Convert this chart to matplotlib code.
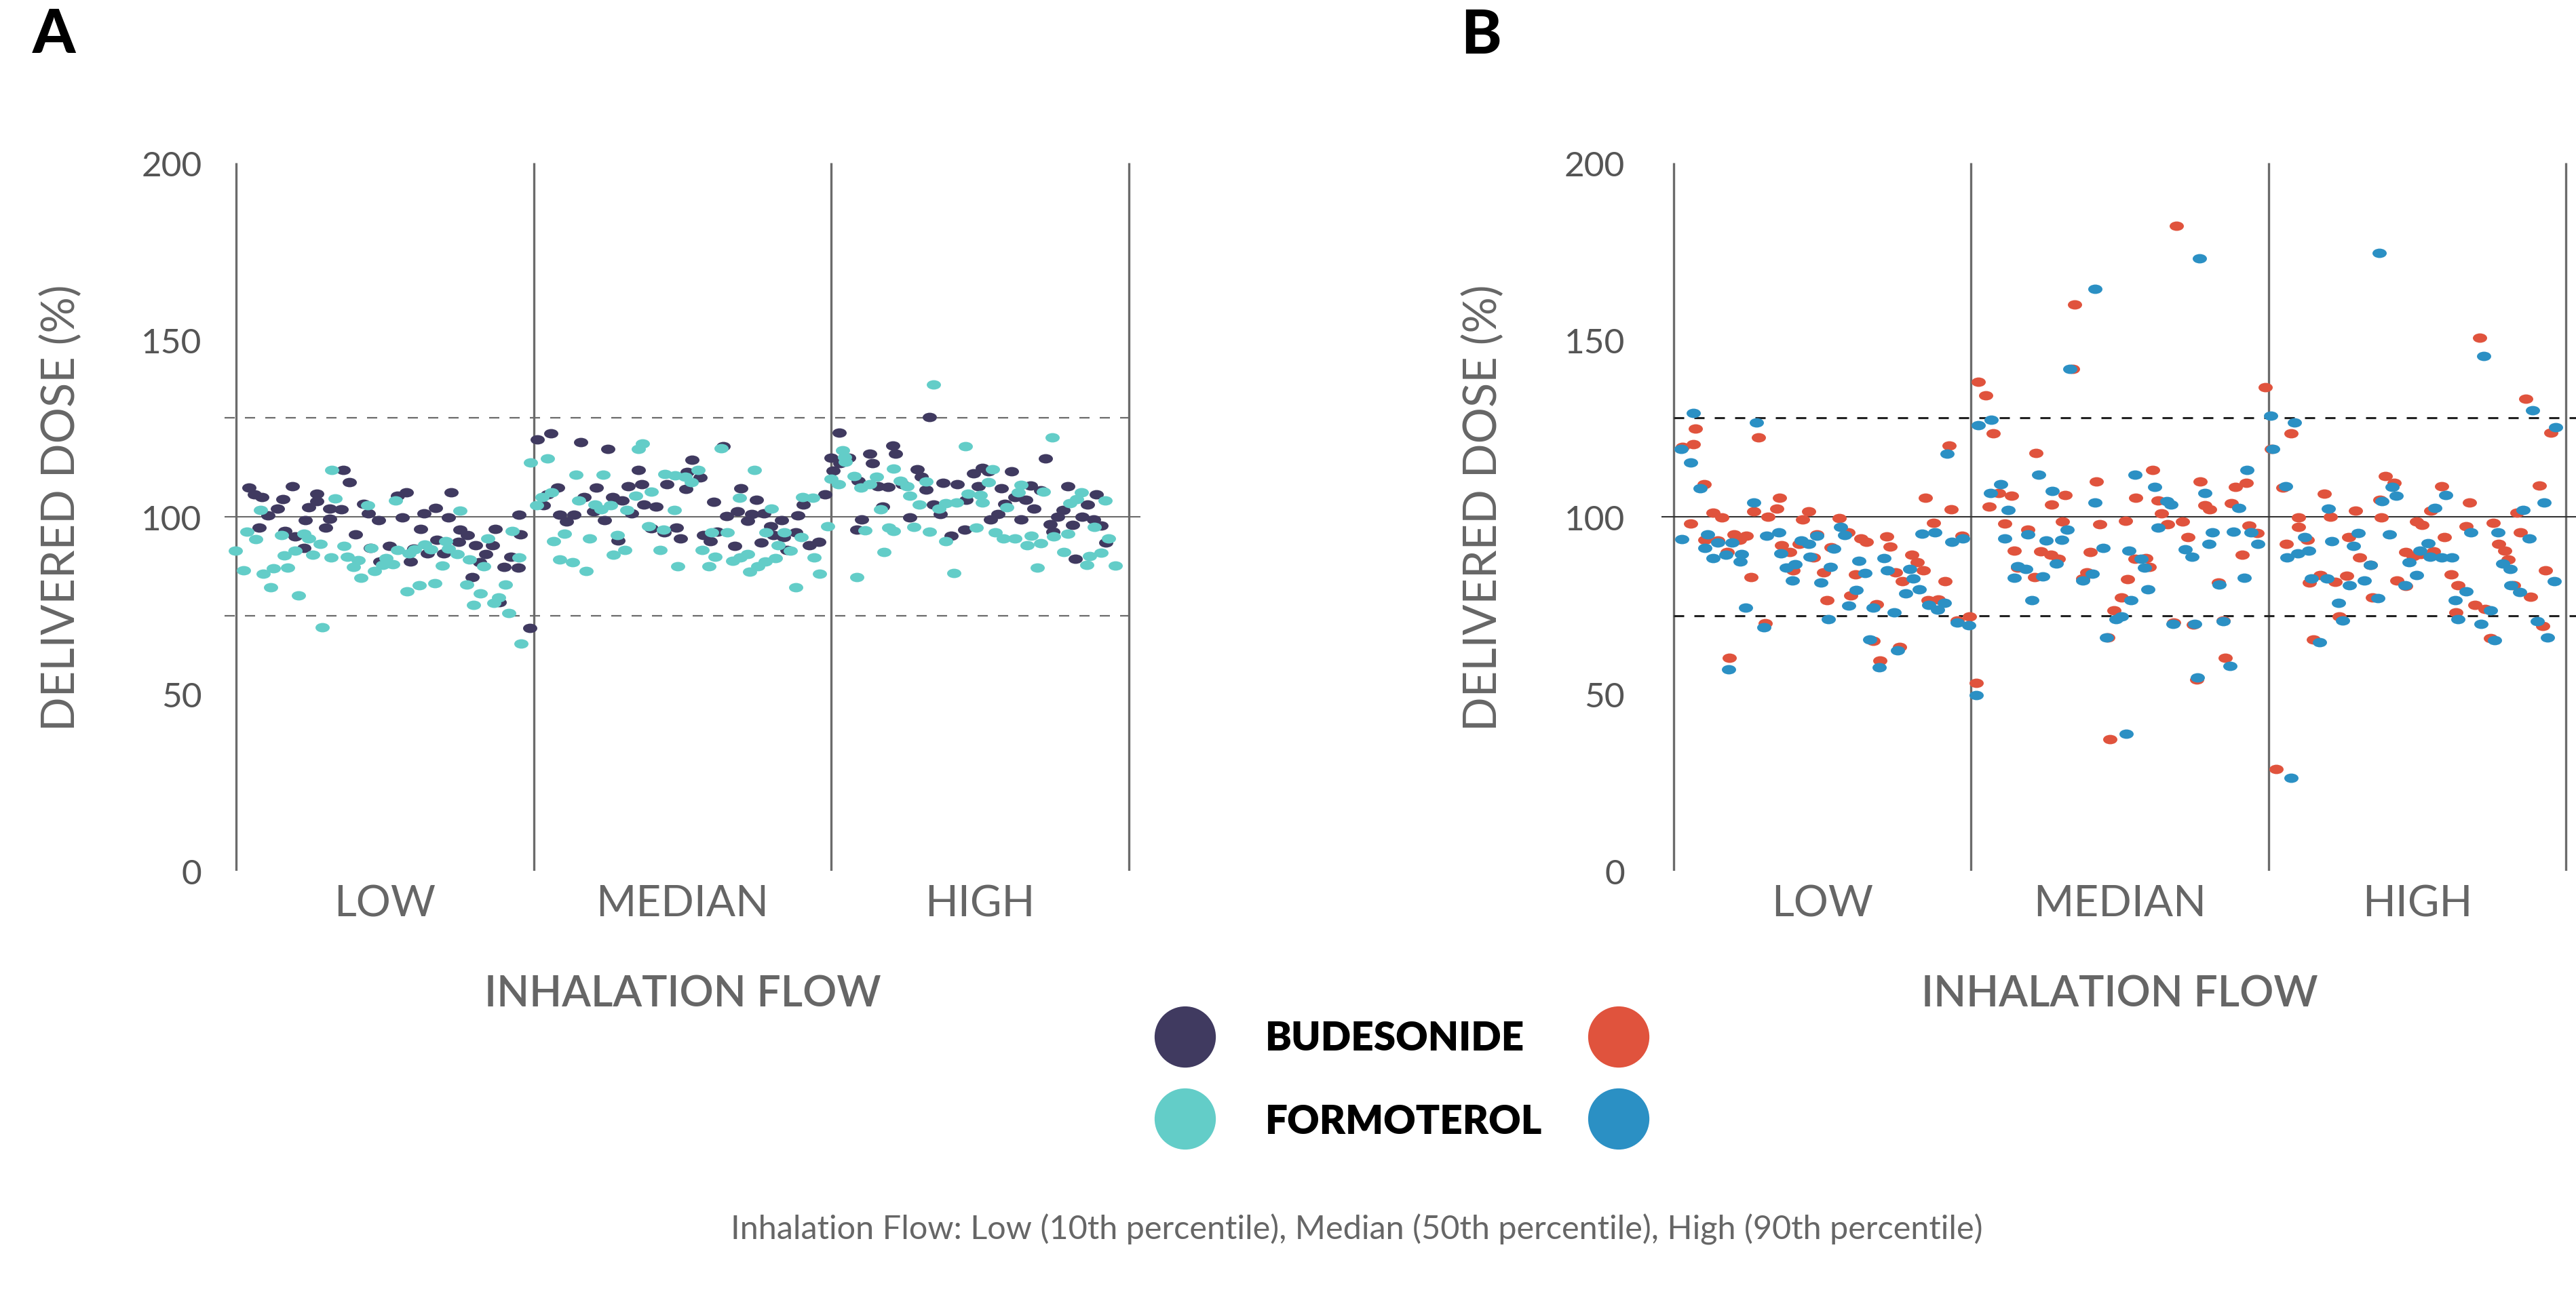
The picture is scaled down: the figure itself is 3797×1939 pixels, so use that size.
import matplotlib
matplotlib.use("Agg")
import matplotlib.pyplot as plt
from matplotlib.path import Path
from matplotlib.transforms import Affine2D

# ---- data: delivered dose (% of label claim) per sample ----
# x = sample position; 0-1 LOW flow, 1-2 MEDIAN flow, 2-3 HIGH flow

# panel A
a_bud_x = [
    0.042, 0.061, 0.087, 0.076, 0.106, 0.138, 0.156, 0.188, 0.163, 0.198, 0.228, 0.232, 0.243, 0.271, 0.271,
    0.315, 0.315, 0.300, 0.353, 0.359, 0.381, 0.400, 0.429, 0.443, 0.479, 0.452, 0.483, 0.514, 0.542, 0.572,
    0.557, 0.585, 0.598, 0.619, 0.632, 0.642, 0.669, 0.674, 0.697, 0.713, 0.722, 0.752, 0.748, 0.777, 0.804,
    0.817, 0.794, 0.838, 0.861, 0.870, 0.885, 0.900, 0.923, 0.948, 0.956, 0.950, 0.986,
    1.013, 1.057, 1.032, 1.046, 1.080, 1.087, 1.110, 1.134, 1.158, 1.169, 1.201, 1.210, 1.237, 1.249, 1.264,
    1.296, 1.283, 1.317, 1.328, 1.351, 1.362, 1.371, 1.395, 1.410, 1.439, 1.447, 1.479, 1.492, 1.511, 1.515,
    1.533, 1.559, 1.570, 1.594, 1.606, 1.616, 1.636, 1.648, 1.676, 1.685, 1.695, 1.718, 1.733, 1.748, 1.764,
    1.773, 1.796, 1.805, 1.834, 1.840, 1.851, 1.881, 1.887, 1.906, 1.927, 1.959, 1.980,
    2.000, 2.006, 2.027, 2.030, 2.059, 2.091, 2.101, 2.085, 2.129, 2.139, 2.156, 2.173, 2.192, 2.207, 2.217,
    2.239, 2.264, 2.290, 2.302, 2.319, 2.329, 2.344, 2.366, 2.376, 2.404, 2.424, 2.448, 2.454, 2.479, 2.494,
    2.509, 2.528, 2.536, 2.561, 2.571, 2.583, 2.606, 2.618, 2.638, 2.655, 2.669, 2.682, 2.703, 2.720, 2.735,
    2.745, 2.762, 2.780, 2.796, 2.812, 2.821, 2.844, 2.862, 2.881, 2.891, 2.908, 2.922,
]
a_bud_y = [
    108.2, 106.4, 105.5, 97.0, 100.4, 102.3, 105.0, 108.7, 95.9, 94.4, 91.2, 99.0, 102.7, 106.6, 104.5,
    102.4, 99.4, 97.0, 102.1, 113.3, 109.8, 95.1, 103.6, 101.0, 99.0, 91.2, 87.4, 91.7, 106.0, 106.9,
    99.9, 87.4, 91.0, 96.5, 101.0, 89.7, 102.6, 93.5, 89.7, 99.9, 106.9, 96.3, 92.9, 94.9, 91.9,
    87.1, 83.0, 89.5, 91.9, 96.5, 75.8, 85.9, 88.8, 85.6, 95.0, 100.5, 68.6,
    121.8, 123.5, 103.2, 106.3, 108.3, 100.5, 98.6, 100.5, 121.0, 105.6, 101.5, 108.2, 99.1, 119.1, 105.6,
    104.7, 93.3, 108.7, 101.0, 113.3, 109.3, 103.5, 96.7, 102.8, 95.7, 109.2, 97.0, 93.8, 107.9, 112.7,
    116.2, 111.2, 94.9, 93.1, 104.2, 95.8, 119.9, 100.2, 91.7, 101.6, 108.0, 98.8, 100.7, 104.8, 92.8,
    101.0, 97.3, 94.9, 99.1, 94.3, 90.6, 95.7, 100.4, 103.4, 91.9, 92.9, 106.3,
    116.7, 113.1, 123.8, 115.1, 116.7, 110.1, 99.2, 96.3, 117.8, 115.1, 108.7, 102.9, 108.5, 120.2, 117.8,
    109.3, 99.8, 113.5, 111.3, 107.6, 128.1, 103.5, 100.8, 109.6, 94.7, 109.3, 96.3, 104.8, 112.2, 108.7,
    113.8, 112.8, 99.2, 100.8, 108.1, 103.7, 112.8, 105.6, 99.2, 104.8, 108.8, 102.4, 107.4, 116.5, 97.9,
    95.8, 100.0, 101.9, 108.7, 97.8, 88.1, 100.0, 103.4, 99.2, 106.4, 97.6, 92.8,
]
a_form_x = [
    -0.004, 0.025, 0.036, 0.066, 0.082, 0.091, 0.116, 0.125, 0.152, 0.161, 0.172, 0.198, 0.209, 0.228, 0.243,
    0.257, 0.283, 0.290, 0.318, 0.321, 0.333, 0.361, 0.374, 0.395, 0.410, 0.419, 0.441, 0.454, 0.464, 0.492,
    0.504, 0.527, 0.536, 0.543, 0.575, 0.581, 0.600, 0.616, 0.634, 0.655, 0.667, 0.693, 0.705, 0.714, 0.743,
    0.752, 0.774, 0.783, 0.798, 0.821, 0.832, 0.846, 0.866, 0.881, 0.904, 0.916, 0.927, 0.951, 0.957, 0.988,
    1.010, 1.046, 1.027, 1.059, 1.067, 1.087, 1.104, 1.131, 1.141, 1.152, 1.177, 1.188, 1.205, 1.226, 1.234,
    1.258, 1.268, 1.281, 1.305, 1.314, 1.343, 1.351, 1.365, 1.386, 1.395, 1.424, 1.435, 1.441, 1.473, 1.475,
    1.485, 1.509, 1.530, 1.552, 1.565, 1.589, 1.599, 1.610, 1.631, 1.650, 1.669, 1.691, 1.694, 1.720, 1.726,
    1.742, 1.752, 1.779, 1.781, 1.799, 1.812, 1.821, 1.842, 1.862, 1.881, 1.898, 1.903, 1.938, 1.942, 1.961,
    1.988,
    2.000, 2.024, 2.038, 2.044, 2.048, 2.076, 2.085, 2.099, 2.114, 2.129, 2.153, 2.166, 2.177, 2.194, 2.209,
    2.210, 2.232, 2.255, 2.264, 2.278, 2.296, 2.319, 2.331, 2.343, 2.361, 2.384, 2.385, 2.413, 2.422, 2.451,
    2.460, 2.488, 2.500, 2.507, 2.528, 2.542, 2.552, 2.578, 2.591, 2.618, 2.628, 2.638, 2.659, 2.672, 2.693,
    2.704, 2.713, 2.742, 2.748, 2.781, 2.796, 2.802, 2.824, 2.840, 2.859, 2.868, 2.885, 2.908, 2.921, 2.932,
    2.956,
]
a_form_y = [
    90.5, 84.8, 95.8, 93.7, 102.0, 84.0, 80.1, 85.4, 94.9, 89.1, 85.6, 90.4, 77.8, 95.2, 93.8,
    89.2, 92.3, 68.8, 88.5, 113.3, 105.2, 91.7, 88.7, 85.9, 87.8, 82.7, 103.2, 91.3, 84.7, 86.4,
    88.3, 86.7, 104.6, 90.6, 79.0, 89.6, 90.9, 80.6, 92.2, 90.9, 81.3, 86.2, 93.1, 91.0, 89.5,
    101.8, 80.8, 87.9, 75.1, 78.3, 86.0, 93.8, 75.6, 77.3, 80.8, 72.9, 96.0, 88.5, 64.1, 115.4,
    103.2, 116.4, 105.5, 106.9, 93.1, 87.9, 95.2, 87.2, 111.9, 104.7, 84.7, 93.9, 103.4, 102.1, 111.9,
    103.3, 89.2, 94.9, 90.6, 101.9, 106.0, 119.1, 120.8, 97.4, 107.1, 90.6, 96.3, 112.1, 101.9, 111.7,
    86.0, 111.3, 109.8, 113.3, 90.6, 86.1, 95.7, 88.7, 119.4, 95.6, 87.5, 105.3, 88.5, 89.4, 84.5,
    113.2, 86.0, 87.4, 95.6, 102.4, 88.3, 92.0, 95.6, 90.4, 80.1, 94.3, 105.5, 105.3, 88.5, 84.0,
    97.4,
    110.8, 109.3, 118.8, 116.9, 115.5, 111.5, 82.9, 108.3, 96.2, 109.3, 111.3, 102.1, 90.0, 96.9, 113.6,
    96.0, 110.1, 108.7, 106.0, 97.2, 103.5, 109.9, 95.8, 137.3, 102.4, 93.1, 103.8, 84.2, 104.0, 120.0,
    106.5, 97.0, 106.1, 104.0, 109.7, 113.5, 95.7, 93.8, 102.7, 93.8, 106.9, 109.0, 91.9, 94.7, 85.6,
    92.5, 107.2, 122.4, 94.4, 90.1, 95.3, 103.8, 105.0, 106.9, 86.4, 88.9, 97.1, 89.9, 104.7, 93.8,
    86.2,
]

# panel B
b_bud_x = [
    0.030, 0.068, 0.075, 0.059, 0.104, 0.106, 0.133, 0.148, 0.162, 0.181, 0.189, 0.204, 0.221, 0.246, 0.260,
    0.271, 0.286, 0.308, 0.319, 0.348, 0.356, 0.363, 0.390, 0.403, 0.422, 0.435, 0.454, 0.471, 0.483, 0.504,
    0.516, 0.529, 0.557, 0.588, 0.597, 0.611, 0.631, 0.649, 0.671, 0.683, 0.694, 0.718, 0.728, 0.747, 0.760,
    0.770, 0.801, 0.819, 0.839, 0.846, 0.856, 0.875, 0.890, 0.913, 0.926, 0.934, 0.954, 0.970, 0.996,
    1.024, 1.017, 1.051, 1.076, 1.062, 1.093, 1.113, 1.137, 1.146, 1.158, 1.192, 1.213, 1.219, 1.234, 1.270,
    1.268, 1.295, 1.317, 1.308, 1.348, 1.342, 1.376, 1.390, 1.402, 1.421, 1.433, 1.460, 1.468, 1.481, 1.506,
    1.519, 1.526, 1.554, 1.551, 1.589, 1.599, 1.610, 1.629, 1.641, 1.662, 1.690, 1.681, 1.711, 1.730, 1.748,
    1.760, 1.770, 1.786, 1.802, 1.833, 1.848, 1.854, 1.875, 1.888, 1.911, 1.925, 1.935, 1.963, 1.989,
    2.011, 2.027, 2.077, 2.048, 2.061, 2.102, 2.102, 2.131, 2.137, 2.152, 2.175, 2.188, 2.209, 2.224, 2.239,
    2.262, 2.269, 2.292, 2.306, 2.344, 2.349, 2.374, 2.379, 2.393, 2.423, 2.432, 2.461, 2.461, 2.486, 2.499,
    2.516, 2.512, 2.546, 2.555, 2.582, 2.592, 2.615, 2.637, 2.631, 2.665, 2.675, 2.694, 2.710, 2.728, 2.747,
    2.755, 2.774, 2.794, 2.807, 2.825, 2.835, 2.846, 2.866, 2.882, 2.910, 2.932, 2.923, 2.950,
]
b_bud_y = [
    119.7, 120.5, 124.9, 98.1, 109.2, 93.6, 101.2, 93.3, 99.9, 90.0, 60.1, 95.1, 93.5, 94.6, 83.0,
    101.5, 122.5, 69.9, 100.0, 102.3, 105.3, 91.9, 90.1, 84.8, 92.4, 99.3, 101.5, 88.5, 95.1, 84.4,
    76.5, 91.4, 99.6, 95.6, 77.8, 83.7, 93.8, 92.9, 64.9, 75.3, 59.4, 94.5, 91.6, 84.4, 63.3,
    81.9, 89.3, 87.1, 84.8, 105.3, 76.5, 98.2, 76.7, 81.9, 120.1, 102.1, 70.7, 94.6, 71.8,
    138.2, 53.0, 134.3, 123.6, 102.8, 106.8, 98.1, 106.0, 90.4, 85.6, 96.4, 83.0, 118.0, 90.2, 103.4,
    89.3, 88.2, 106.1, 98.7, 160.0, 141.8, 82.6, 84.4, 90.0, 109.9, 97.9, 66.0, 37.1, 73.6, 77.2,
    98.8, 82.4, 105.4, 88.1, 88.3, 85.8, 113.3, 104.7, 101.0, 97.9, 182.3, 70.1, 98.7, 94.2, 69.5,
    54.1, 110.0, 103.2, 102.2, 81.4, 70.7, 60.2, 103.9, 108.5, 89.2, 109.6, 97.6, 95.4, 136.6,
    119.2, 28.8, 123.6, 108.2, 92.3, 99.8, 97.2, 93.5, 81.4, 65.4, 83.6, 106.6, 100.0, 81.7, 71.8,
    83.3, 94.2, 101.8, 88.6, 86.5, 77.3, 104.9, 99.9, 111.6, 109.6, 82.0, 80.4, 90.0, 88.9, 98.7,
    97.7, 89.4, 101.7, 90.3, 108.7, 94.3, 83.8, 80.6, 73.1, 97.4, 104.0, 75.1, 150.6, 74.0, 65.8,
    98.2, 92.4, 90.4, 88.0, 80.6, 101.2, 95.7, 133.3, 77.5, 108.8, 84.8, 69.2, 123.7,
]
b_form_x = [
    0.025, 0.028, 0.057, 0.066, 0.090, 0.106, 0.114, 0.133, 0.148, 0.177, 0.186, 0.196, 0.224, 0.230, 0.242,
    0.270, 0.278, 0.304, 0.313, 0.354, 0.361, 0.379, 0.399, 0.409, 0.430, 0.454, 0.460, 0.481, 0.495, 0.521,
    0.527, 0.540, 0.563, 0.576, 0.589, 0.614, 0.624, 0.643, 0.660, 0.671, 0.692, 0.707, 0.719, 0.741, 0.753,
    0.781, 0.795, 0.805, 0.827, 0.835, 0.858, 0.878, 0.888, 0.910, 0.920, 0.937, 0.954, 0.973, 0.992,
    1.024, 1.019, 1.068, 1.066, 1.101, 1.114, 1.126, 1.146, 1.158, 1.192, 1.184, 1.205, 1.228, 1.242, 1.252,
    1.274, 1.287, 1.306, 1.323, 1.333, 1.376, 1.408, 1.417, 1.418, 1.445, 1.456, 1.487, 1.507, 1.522, 1.530,
    1.538, 1.551, 1.572, 1.584, 1.596, 1.618, 1.630, 1.658, 1.673, 1.679, 1.721, 1.744, 1.753, 1.762, 1.768,
    1.786, 1.800, 1.811, 1.835, 1.849, 1.871, 1.882, 1.900, 1.919, 1.928, 1.941, 1.964,
    2.008, 2.015, 2.076, 2.087, 2.057, 2.063, 2.099, 2.121, 2.135, 2.144, 2.173, 2.196, 2.201, 2.212, 2.236,
    2.249, 2.273, 2.287, 2.301, 2.322, 2.342, 2.368, 2.372, 2.382, 2.406, 2.415, 2.430, 2.459, 2.473, 2.497,
    2.510, 2.536, 2.544, 2.560, 2.583, 2.597, 2.616, 2.627, 2.638, 2.664, 2.681, 2.714, 2.723, 2.747, 2.760,
    2.772, 2.788, 2.812, 2.814, 2.844, 2.855, 2.877, 2.888, 2.903, 2.926, 2.939, 2.962, 2.966,
]
b_form_y = [
    119.2, 93.7, 115.4, 129.4, 108.1, 91.2, 95.1, 88.3, 92.7, 89.2, 56.9, 92.7, 87.4, 89.4, 74.3,
    104.1, 126.6, 68.7, 94.6, 95.7, 89.7, 85.6, 82.0, 86.7, 93.3, 92.4, 88.8, 94.6, 81.5, 71.1,
    85.9, 91.0, 97.2, 94.9, 74.9, 79.3, 87.6, 84.2, 65.4, 74.3, 57.4, 88.3, 84.8, 73.0, 62.2,
    78.4, 85.2, 82.5, 79.6, 95.3, 75.1, 95.7, 73.8, 75.7, 117.8, 92.9, 70.1, 93.9, 69.3,
    125.8, 49.7, 127.5, 106.7, 109.3, 93.8, 102.0, 82.7, 86.1, 95.0, 85.2, 76.4, 111.9, 83.2, 93.3,
    107.3, 86.8, 93.5, 96.4, 141.8, 82.0, 84.0, 164.3, 104.0, 91.2, 65.9, 71.1, 71.9, 38.8, 90.4,
    76.4, 111.9, 88.1, 85.6, 79.6, 108.5, 97.0, 104.5, 103.4, 69.8, 90.8, 88.8, 69.7, 54.6, 173.0,
    106.7, 92.4, 95.7, 80.8, 70.6, 57.9, 95.8, 102.5, 82.7, 113.3, 95.7, 92.4,
    128.6, 119.2, 26.2, 126.6, 108.7, 88.6, 89.6, 94.3, 90.4, 82.5, 64.6, 82.5, 102.4, 93.2, 75.6,
    70.7, 80.6, 91.8, 95.5, 82.1, 86.5, 77.0, 174.6, 104.5, 95.0, 108.5, 106.0, 80.6, 87.2, 83.5,
    90.5, 92.5, 88.8, 102.6, 88.5, 106.2, 88.5, 76.4, 71.0, 78.9, 95.7, 69.8, 145.4, 73.6, 65.1,
    95.6, 86.8, 85.2, 80.7, 78.8, 102.0, 93.8, 130.1, 70.6, 104.1, 65.9, 81.9, 125.4,
]

flow_labels = ["LOW", "MEDIAN", "HIGH"]
y_ticks = [0, 50, 100, 150, 200]
target = 100
limits = [72, 128]

C_BUD_A = "#403a60"
C_FORM_A = "#63cdc8"
C_BUD_B = "#e0533d"
C_FORM_B = "#2b90c4"
GREY = "#666666"
LINE = "#6b6b6b"

plt.rcParams['font.family'] = ['Lato', 'DejaVu Sans']

fig = plt.figure(figsize=(37.97, 19.40), dpi=100)

# flat ellipse marker like the original dots
dot = Path.unit_circle().transformed(Affine2D().scale(1.0, 0.66))


def pairs(x, y):
    n = min(len(x), len(y))
    return x[:n], y[:n]


def panel(left, bud, form, c_bud, c_form, hline_col, dash_col, dash_lw, dash_from, tick_pad, ylab_x):
    ax = fig.add_axes([left, 0.3376, 0.3557, 0.5381])
    ax.set_xlim(-0.04, 3.04)
    ax.set_ylim(0, 200)
    for s in ax.spines.values():
        s.set_visible(False)
    ax.set_xticks([])
    ax.set_yticks(y_ticks)
    ax.tick_params(axis='y', length=0, pad=tick_pad, labelsize=37, labelcolor='#555555')

    ax.vlines(range(4), 0, 200, color=LINE, lw=2.4, zorder=1)
    ax.axhline(target, color=hline_col, lw=1.5, zorder=1)
    on = 10.8 / dash_lw
    for lim in limits:
        ax.hlines(lim, dash_from, 3.04, color=dash_col, lw=dash_lw, linestyle=(0, (on, on)), zorder=1)

    bx, by = pairs(*bud)
    fx, fy = pairs(*form)
    ax.scatter(bx, by, s=228, marker=dot, c=c_bud, linewidths=0, zorder=3, clip_on=False)
    ax.scatter(fx, fy, s=228, marker=dot, c=c_form, linewidths=0, zorder=4, clip_on=False)

    tr = ax.get_xaxis_transform()
    for i, lab in enumerate(flow_labels):
        ax.text(i + 0.5, -0.0632, lab, transform=tr, ha='center', va='baseline',
                fontsize=46, color=GREY)
    ax.text(1.5, -0.1906, 'INHALATION FLOW', transform=tr, ha='center', va='baseline',
            fontsize=45, fontweight='semibold', color=GREY)
    ax.text(ylab_x, 0.514, 'DELIVERED DOSE (%)', transform=ax.transAxes, rotation=90,
            ha='center', va='center', fontsize=48, color=GREY)
    return ax


panel(0.0871, (a_bud_x, a_bud_y), (a_form_x, a_form_y), C_BUD_A, C_FORM_A,
      LINE, LINE, 1.6, -0.04, 24, -0.178)
panel(0.6450, (b_bud_x, b_bud_y), (b_form_x, b_form_y), C_BUD_B, C_FORM_B,
      "#333333", "#222222", 2.2, 0.0, 39, -0.194)

# panel letters
fig.text(0.0126, 0.9598, 'A', fontsize=65, fontweight='black', color='black', va='baseline')
fig.text(0.5670, 0.9593, 'B', fontsize=65, fontweight='black', color='black', va='baseline')

# legend in the middle
leg = fig.add_axes([0, 0, 1, 1])
leg.set_axis_off()
leg.set_xlim(0, 1)
leg.set_ylim(0, 1)
leg.scatter([0.4601, 0.6284], [0.2113, 0.2113], s=4225, c=[C_BUD_A, C_BUD_B], linewidths=0)
leg.scatter([0.4601, 0.6284], [0.1490, 0.1490], s=4225, c=[C_FORM_A, C_FORM_B], linewidths=0)
leg.text(0.4912, 0.2015, 'BUDESONIDE', fontsize=42, fontweight='heavy', color='black', va='baseline')
leg.text(0.4912, 0.1381, 'FORMOTEROL', fontsize=42, fontweight='heavy', color='black', va='baseline')

fig.text(0.5267, 0.0582,
         'Inhalation Flow: Low (10th percentile), Median (50th percentile), High (90th percentile)',
         ha='center', va='baseline', fontsize=35, color=GREY)

fig.savefig('out.png', dpi=100)
